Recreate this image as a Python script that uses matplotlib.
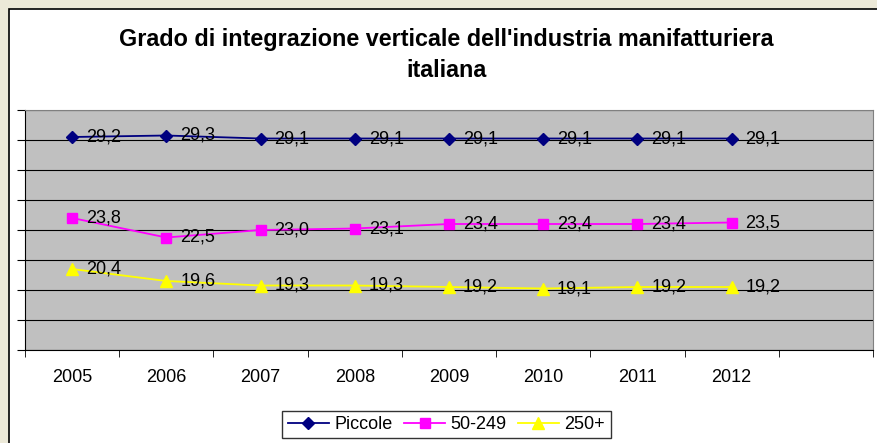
import numpy as np
import matplotlib.pyplot as plt
from matplotlib.patches import Rectangle
from matplotlib.ticker import FixedLocator

plt.rcParams['font.family'] = ['Liberation Sans', 'DejaVu Sans']

# Data
years = ["2005", "2006", "2007", "2008", "2009", "2010", "2011", "2012"]
piccole = [29.2, 29.3, 29.1, 29.1, 29.1, 29.1, 29.1, 29.1]
medie = [23.8, 22.5, 23.0, 23.1, 23.4, 23.4, 23.4, 23.5]
grandi = [20.4, 19.6, 19.3, 19.3, 19.2, 19.1, 19.2, 19.2]
series_names = ["Piccole", "50-249", "250+"]
title = "Grado di integrazione verticale dell'industria manifatturiera\nitaliana"

fig = plt.figure(figsize=(8.78, 4.43), dpi=100)
fig.patch.set_facecolor("#ECE9D8")

# white chart area with black border (left/top visible)
fig.patches.append(Rectangle((9 / 878, -0.05), 1.0, 1 - 9 / 443 + 0.05,
                             transform=fig.transFigure, facecolor="white",
                             edgecolor="black", linewidth=1.2, zorder=-10))

ax = fig.add_axes([25 / 878, 1 - 350 / 443, 848 / 878, 240 / 443])
ax.set_facecolor("#C0C0C0")

x = np.arange(len(years))
styles = [("#000080", "D", 6.5), ("#FF00FF", "s", 7), ("#FFFF00", "^", 8)]
for vals, name, (col, mk, ms) in zip([piccole, medie, grandi], series_names, styles):
    ax.plot(x, vals, color=col, marker=mk, markersize=ms, linewidth=1.3,
            label=name, zorder=3, clip_on=False)
    for xi, v in zip(x, vals):
        ax.annotate(f"{v:.1f}".replace(".", ","), (xi, v), xytext=(10, 0),
                    textcoords="offset points", ha="left", va="center",
                    fontsize=13, color="black", zorder=4)

ax.set_xlim(-0.5, 8.5)
ax.set_ylim(15, 31)
ax.yaxis.set_major_locator(FixedLocator(np.arange(15, 32, 2)))
ax.yaxis.grid(True, color="black", linewidth=0.8)
ax.set_axisbelow(True)
ax.set_yticklabels([])
ax.tick_params(axis="y", direction="out", length=6, color="black")

ax.xaxis.set_major_locator(FixedLocator(x))
ax.set_xticklabels(years, fontsize=13)
ax.xaxis.set_minor_locator(FixedLocator(np.arange(-0.5, 9, 1)))
ax.tick_params(axis="x", which="major", length=0, pad=14)
ax.tick_params(axis="x", which="minor", direction="out", length=5, color="black")

for side in ["top", "right"]:
    ax.spines[side].set_color("#808080")
for side in ["left", "bottom"]:
    ax.spines[side].set_color("black")

fig.text(0.5085, 1 - 55 / 443, title, ha="center", va="center",
         fontsize=16.8, fontweight="bold", linespacing=1.45)

leg = fig.legend(loc="center", bbox_to_anchor=(0.5085, 1 - 424.5 / 443),
                 ncol=3, fontsize=13, frameon=True, fancybox=False,
                 edgecolor="black", handlelength=2.3, columnspacing=0.6,
                 handletextpad=0.3, borderpad=0.3)
leg.get_frame().set_linewidth(1.0)

fig.savefig("out.png", dpi=100, facecolor=fig.get_facecolor())
